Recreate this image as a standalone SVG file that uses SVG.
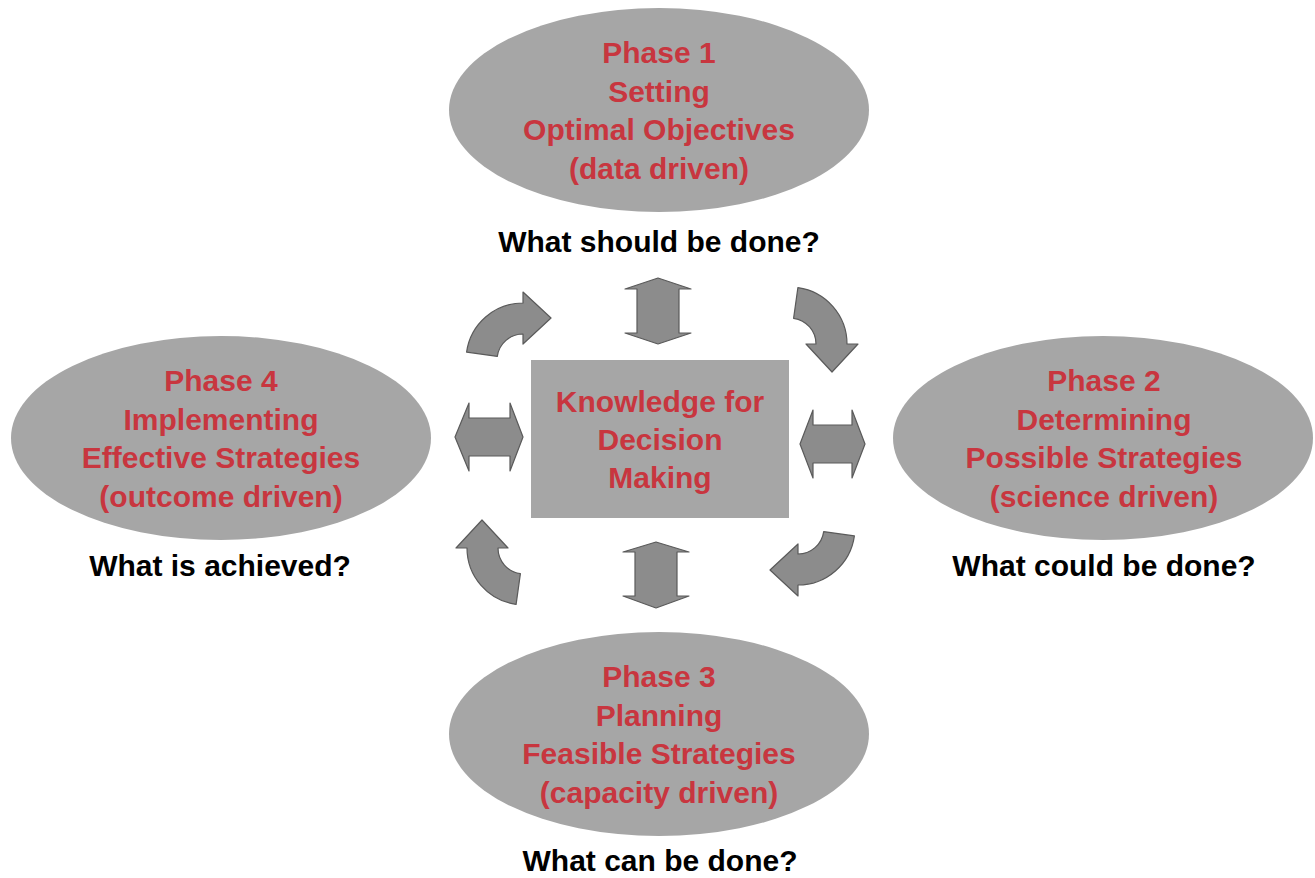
<svg xmlns="http://www.w3.org/2000/svg" width="1315" height="878" viewBox="0 0 1315 878">
  <style>
    .phase { fill: #a6a6a6; }
    .title { font-family: "Liberation Sans", Arial, sans-serif; font-weight: bold; font-size: 30px; fill: #c8363f; text-anchor: middle; }
    .question { font-family: "Liberation Sans", Arial, sans-serif; font-weight: bold; font-size: 30px; fill: #000000; text-anchor: middle; }
    .arrow { fill: #8c8c8c; stroke: #5a5a5a; stroke-width: 1.2; stroke-linejoin: round; }
  </style>
  <defs>
    <!-- curved arrow, tip at origin, pointing +x, tail bending down-left -->
    <path id="curved" d="M -84.4 34.1 A 57 57 0 0 1 -28 -15 L -28 -26 L 0 0 L -28 26 L -28 16 A 26 26 0 0 0 -53.7 38.4 Z"/>
  </defs>

  <rect width="1315" height="878" fill="#ffffff"/>

  <!-- centre box -->
  <g id="knowledge">
    <rect class="phase" x="531" y="360" width="258" height="158"/>
    <text class="title" x="660" y="412">Knowledge for</text>
    <text class="title" x="660" y="450">Decision</text>
    <text class="title" x="660" y="488">Making</text>
  </g>

  <g id="phase1">
    <ellipse class="phase" cx="659" cy="110" rx="210" ry="102"/>
    <text class="title" x="659" y="63">Phase 1</text>
    <text class="title" x="659" y="101.5">Setting</text>
    <text class="title" x="659" y="140">Optimal Objectives</text>
    <text class="title" x="659" y="178.5">(data driven)</text>
    <text class="question" x="659" y="252">What should be done?</text>
  </g>

  <g id="phase2">
    <ellipse class="phase" cx="1103" cy="438" rx="210" ry="102"/>
    <text class="title" x="1104" y="391">Phase 2</text>
    <text class="title" x="1104" y="429.5">Determining</text>
    <text class="title" x="1104" y="468">Possible Strategies</text>
    <text class="title" x="1104" y="506.5">(science driven)</text>
    <text class="question" x="1104" y="576">What could be done?</text>
  </g>

  <g id="phase3">
    <ellipse class="phase" cx="659" cy="734" rx="210" ry="102"/>
    <text class="title" x="659" y="687">Phase 3</text>
    <text class="title" x="659" y="725.5">Planning</text>
    <text class="title" x="659" y="764">Feasible Strategies</text>
    <text class="title" x="659" y="802.5">(capacity driven)</text>
    <text class="question" x="660" y="871">What can be done?</text>
  </g>

  <g id="phase4">
    <ellipse class="phase" cx="221" cy="438" rx="210" ry="102"/>
    <text class="title" x="221" y="391">Phase 4</text>
    <text class="title" x="221" y="429.5">Implementing</text>
    <text class="title" x="221" y="468">Effective Strategies</text>
    <text class="title" x="221" y="506.5">(outcome driven)</text>
    <text class="question" x="220" y="576">What is achieved?</text>
  </g>

  <g id="connectors">
    <!-- two-way links between the centre box and each phase -->
    <path class="arrow" d="M 658 278 L 691 289 L 679 289 L 679 333 L 691 333 L 658 344 L 625 333 L 637 333 L 637 289 L 625 289 Z"/>
    <path class="arrow" d="M 656 542 L 689 552 L 677 552 L 677 596 L 689 596 L 656 608 L 623 596 L 635 596 L 635 552 L 623 552 Z"/>
    <path class="arrow" d="M 455 437 L 469 403 L 469 418 L 510 418 L 510 403 L 523 437 L 510 471 L 510 456 L 469 456 L 469 471 Z"/>
    <path class="arrow" d="M 800 444 L 813 410 L 813 425 L 852 425 L 852 410 L 865 444 L 852 478 L 852 463 L 813 463 L 813 478 Z"/>
    <!-- clockwise cycle between the phases -->
    <use class="arrow" href="#curved" transform="translate(551 318)"/>
    <use class="arrow" href="#curved" transform="translate(832 372) rotate(90)"/>
    <use class="arrow" href="#curved" transform="translate(770 570) rotate(180)"/>
    <use class="arrow" href="#curved" transform="translate(482 520) rotate(270)"/>
  </g>
</svg>
